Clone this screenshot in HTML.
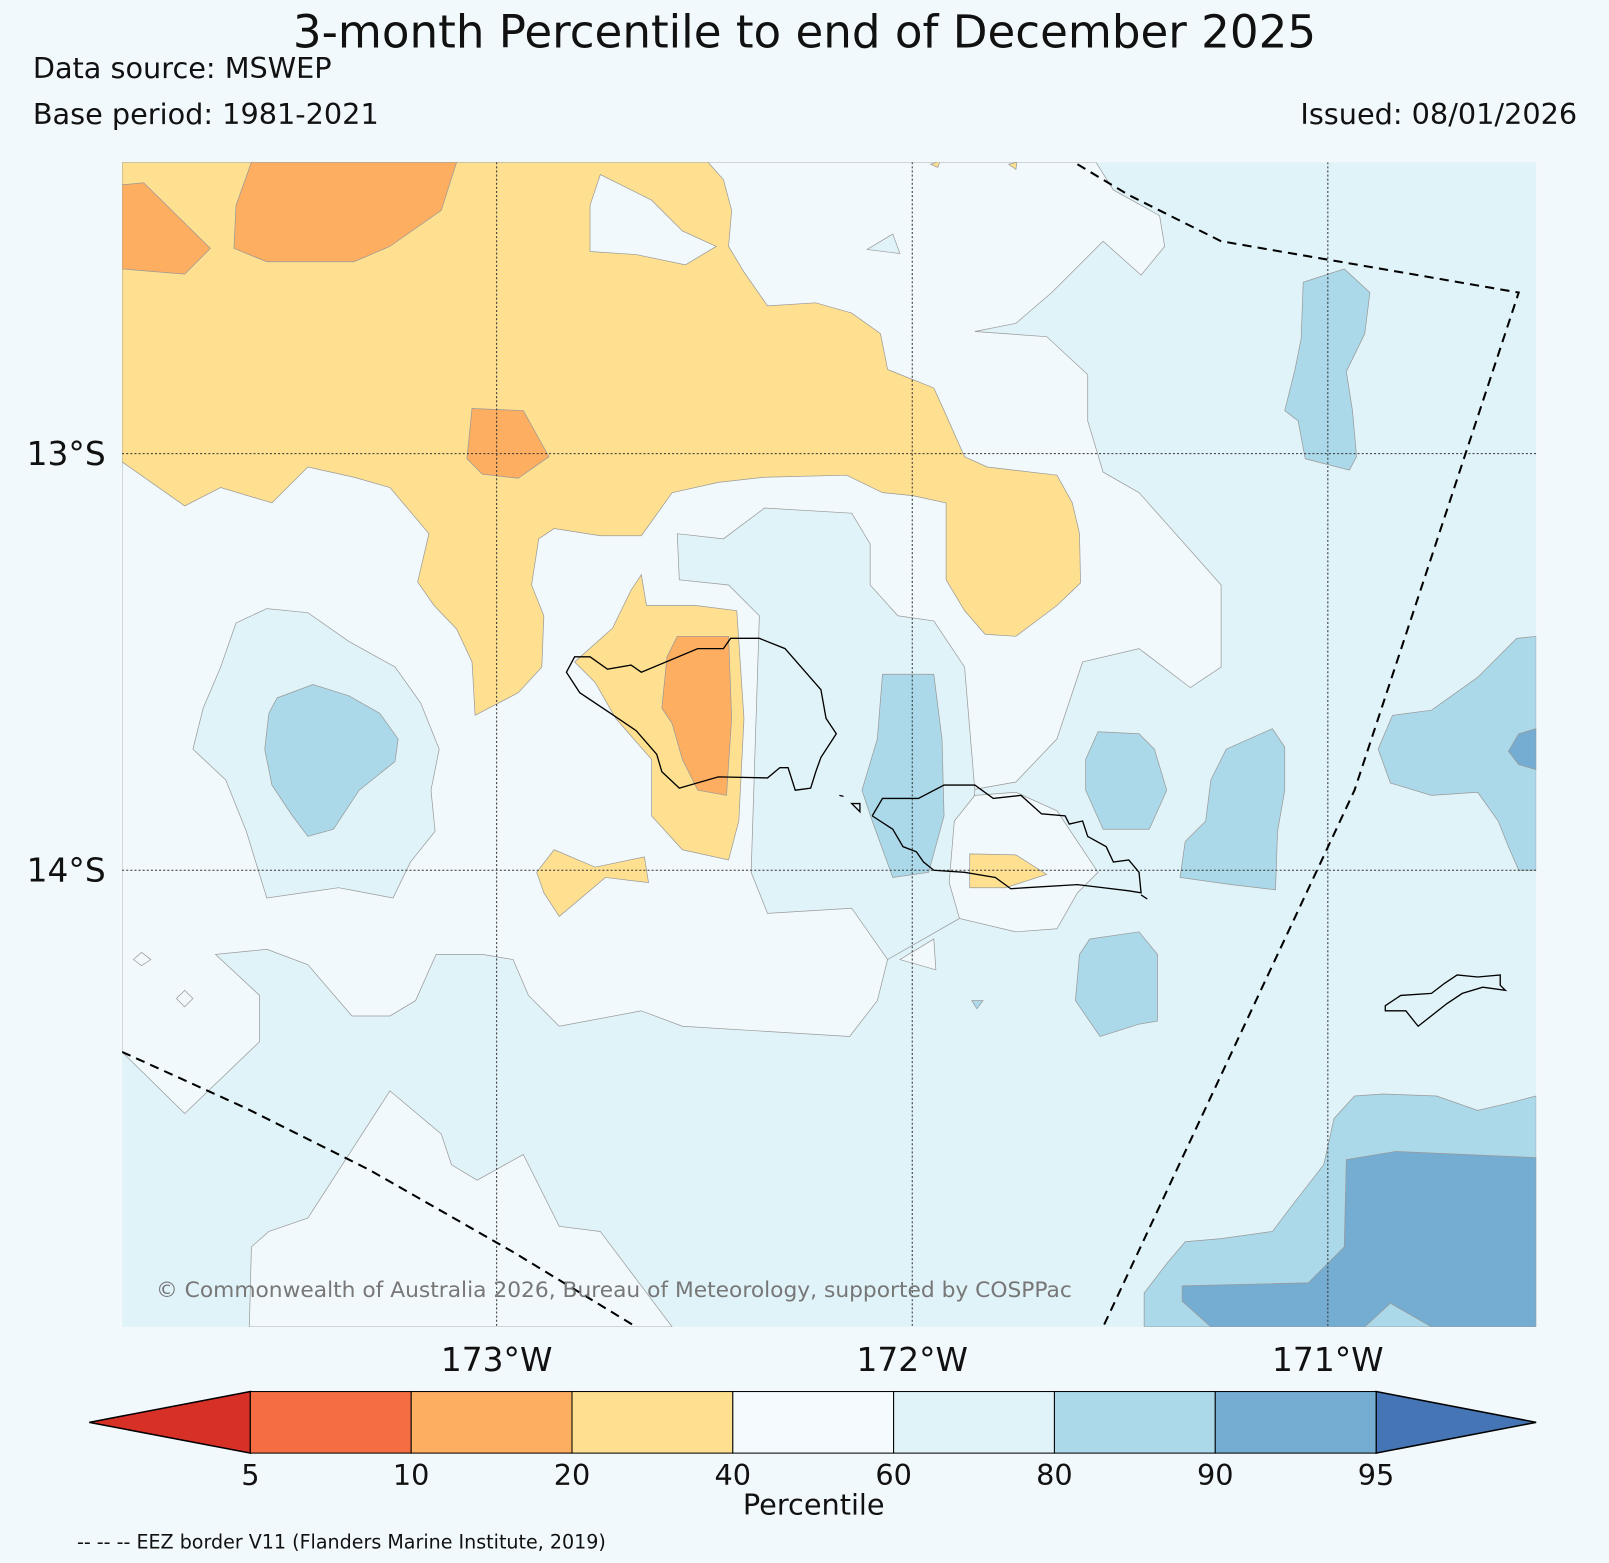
<!DOCTYPE html>
<html><head><meta charset="utf-8"><style>
html,body{margin:0;padding:0;background:#f2f9fc;}
svg{display:block;font-family:"DejaVu Sans","Liberation Sans",sans-serif;}
.c{stroke:#999;stroke-width:0.7;}
</style></head><body>
<svg id="fig" width="1609" height="1563" viewBox="0 0 1568 1523">
<rect width="1568" height="1523" fill="#f2f9fc"/>
<text x="784" y="46" font-size="44" text-anchor="middle" fill="#111">3-month Percentile to end of December 2025</text>
<text x="32" y="76" font-size="28" fill="#111">Data source: MSWEP</text>
<text x="32" y="121" font-size="28" fill="#111">Base period: 1981-2021</text>
<text x="1537" y="121" font-size="28" text-anchor="end" fill="#111">Issued: 08/01/2026</text>
<defs><clipPath id="mapclip"><rect x="119" y="158" width="1378" height="1135"/></clipPath></defs>
<g clip-path="url(#mapclip)">
<rect x="119" y="158" width="1378" height="1135" fill="#e0f3f8"/>
<polygon class="c" fill="#f2f9fc" points="119,158 1068,158 1085,185 1130,210 1135,240 1112,268 1075,235 1025,285 990,315 950,323 1020,328 1060,365 1060,410 1075,460 1110,480 1190,570 1190,650 1160,670 1110,632 1055,645 1030,720 990,762 945,770 865,935 855,975 828,1010 665,1000 625,985 545,1000 515,970 500,935 470,930 425,930 405,975 380,990 343,990 300,940 260,925 210,930 253,970 253,1015 180,1085 119,1025"/>
<polygon class="c" fill="#f2f9fc" points="243,1293 245,1215 262,1200 300,1187 380,1063 430,1105 440,1135 465,1150 510,1125 545,1195 585,1200 655,1293"/>
<polygon class="c" fill="#f2f9fc" points="877,935 910,915 912,945"/>
<polygon class="c" fill="#f2f9fc" points="130,935 138,928 147,935 138,941"/>
<polygon class="c" fill="#f2f9fc" points="172,973 180,965 188,973 180,981"/>
<polygon class="c" fill="#e0f3f8" points="660,520 705,525 745,495 830,500 848,530 848,570 875,600 910,605 940,650 950,770 935,895 865,935 830,885 748,890 732,850 740,600 710,570 662,565"/>
<polygon class="c" fill="#f2f9fc" points="930,800 950,775 990,772 1030,790 1070,850 1050,870 1030,905 990,908 935,895 925,860"/>
<polygon class="c" fill="#e0f3f8" points="230,607 260,593 300,597 340,625 385,650 410,685 428,730 420,770 424,810 400,840 383,875 330,865 260,875 240,810 220,760 188,730 198,690 215,650"/>
<polygon class="c" fill="#e0f3f8" points="845,243 870,228 877,247"/>
<polygon class="c" fill="#fee090" points="119,158 690,158 705,175 713,205 710,240 725,265 748,298 795,295 830,305 858,325 865,360 910,378 920,400 940,445 962,455 1030,463 1045,490 1052,520 1053,568 1030,590 990,620 960,618 940,595 922,565 922,490 890,483 860,480 825,463 745,465 700,470 655,480 625,522 585,522 540,515 525,525 518,570 530,600 528,650 505,675 463,697 460,645 445,613 423,590 407,567 418,520 380,475 345,465 300,455 265,490 215,475 180,493 119,450"/>
<polygon class="c" fill="#f2f9fc" points="575,200 585,170 635,195 665,225 698,240 668,258 620,248 575,245"/>
<polygon class="c" fill="#fdae61" points="245,158 445,158 430,205 380,240 345,255 260,255 228,242 230,200"/>
<polygon class="c" fill="#fdae61" points="119,180 140,178 205,242 180,267 119,262"/>
<polygon class="c" fill="#fdae61" points="460,398 510,400 535,445 505,466 470,462 455,447"/>
<polygon class="c" fill="#fee090" points="560,645 597,612 615,575 625,560 630,590 678,590 718,595 725,700 720,800 710,838 665,828 635,795 635,740 600,700 580,665"/>
<polygon class="c" fill="#fdae61" points="660,620 710,620 713,700 708,775 680,770 665,740 655,705 645,690 650,640"/>
<polygon class="c" fill="#fee090" points="523,850 540,828 580,845 628,835 632,860 590,855 545,893 530,870"/>
<polygon class="c" fill="#fee090" points="945,832 990,833 1020,852 980,865 945,865"/>
<polygon class="c" fill="#abd9e9" points="270,680 305,667 340,678 370,695 388,720 385,742 350,770 325,808 300,815 285,795 265,765 258,730 262,695"/>
<polygon class="c" fill="#abd9e9" points="860,657 910,657 918,720 920,795 905,850 870,855 850,800 840,770 855,720"/>
<polygon class="c" fill="#abd9e9" points="1070,713 1110,715 1125,730 1137,770 1120,808 1075,808 1058,770 1058,740"/>
<polygon class="c" fill="#abd9e9" points="1195,730 1240,710 1252,728 1252,770 1245,810 1243,867 1200,862 1150,855 1155,820 1175,800 1180,760"/>
<polygon class="c" fill="#abd9e9" points="1270,275 1310,262 1335,285 1330,325 1312,362 1318,400 1322,445 1315,458 1272,447 1265,410 1252,400 1262,360 1268,330"/>
<polygon class="c" fill="#abd9e9" points="1497,620 1478,622 1440,660 1395,692 1357,697 1343,730 1355,763 1395,775 1440,772 1460,800 1470,825 1480,848 1497,848"/>
<polygon class="c" fill="#74add1" points="1480,715 1497,710 1497,750 1480,745 1470,732"/>
<polygon class="c" fill="#abd9e9" points="1062,915 1110,908 1128,930 1128,995 1110,998 1072,1010 1048,975 1052,930"/>
<polygon class="c" fill="#abd9e9" points="1497,1068 1470,1075 1440,1082 1400,1068 1348,1066 1320,1068 1300,1090 1290,1135 1255,1180 1240,1200 1190,1207 1155,1210 1138,1230 1115,1260 1115,1293 1497,1293"/>
<polygon class="c" fill="#74add1" points="1312,1130 1360,1122 1497,1128 1497,1293 1395,1293 1355,1270 1330,1293 1180,1293 1152,1268 1152,1253 1275,1250 1310,1215"/>
<polygon class="c" fill="#abd9e9" points="947,975 958,975 952,983"/>
<polygon fill="#fee090" class="c" points="907,160 916,157 914,163"/>
<polygon fill="#fee090" class="c" points="983,160 991,158 990,165"/>
<g stroke="#333" stroke-width="1" stroke-dasharray="2,2">
<line x1="484" y1="158" x2="484" y2="1293"/><line x1="889" y1="158" x2="889" y2="1293"/><line x1="1294" y1="158" x2="1294" y2="1293"/>
<line x1="119" y1="442" x2="1497" y2="442"/><line x1="119" y1="848" x2="1497" y2="848"/>
</g>
<g fill="none" stroke="#000" stroke-width="1.3">
<polygon points="552,655 560,640 575,640 592,652 615,648 625,655 680,632 705,632 712,622 740,622 765,632 800,672 805,700 815,715 800,738 795,752 790,768 775,770 768,748 760,748 748,758 700,757 662,768 645,752 640,735 620,712 595,695 565,675"/>
<polyline points="850,795 860,778 895,778 920,765 950,765 968,778 995,775 1015,793 1038,795 1042,803 1055,800 1060,815 1078,825 1085,840 1100,838 1110,850 1112,870 1100,868 1050,862 1000,865 985,866 970,855 940,850 910,848 900,840 893,830 880,825 870,808 850,795"/>
<line x1="1112" y1="872" x2="1118" y2="876"/><line x1="818" y1="775" x2="822" y2="776"/>
<polygon points="830,783 838,783 838,791"/>
<polygon points="1350,980 1365,970 1395,968 1408,958 1420,950 1440,952 1462,950 1462,960 1467,965 1445,962 1425,968 1410,978 1382,1000 1370,985 1350,985"/>
</g>
<g fill="none" stroke="#000" stroke-width="2" stroke-dasharray="9,6">
<polyline points="1050,160 1100,190 1190,235 1480,285 1320,770 1075,1293"/>
<polyline points="119,1025 240,1080 360,1140 500,1220 620,1293"/>
</g>
<text x="152" y="1264" font-size="21.2" fill="#777">© Commonwealth of Australia 2026, Bureau of Meteorology, supported by COSPPac</text>
</g>
<g font-size="32" fill="#111">
<text x="103" y="453" text-anchor="end">13°S</text>
<text x="103" y="859" text-anchor="end">14°S</text>
<text x="484" y="1336" text-anchor="middle">173°W</text>
<text x="889" y="1336" text-anchor="middle">172°W</text>
<text x="1294" y="1336" text-anchor="middle">171°W</text>
</g>
<g id="colorbar"></g>
<text x="793" y="1476" font-size="28" text-anchor="middle" fill="#111">Percentile</text>
<text x="75" y="1509" font-size="18.6" fill="#111">-- -- -- EEZ border V11 (Flanders Marine Institute, 2019)</text>
</svg>
<script>
const bounds = [5, 10, 20, 40, 60, 80, 90, 95];
const bandColors = ["#f46d43", "#fdae61", "#fee090", "#f4fafd", "#e0f3f8", "#abd9e9", "#74add1"];
const extendColors = ["#d73027", "#4575b4"];
const NS = "http://www.w3.org/2000/svg";
const cb = document.getElementById("colorbar");
const x0 = 244, x1 = 1341, yT = 1356, yB = 1416, tipL = 87, tipR = 1497;
const step = (x1 - x0) / (bounds.length - 1);
function xAt(i) { return x0 + i * step; }
function mk(tag, attrs) { const e = document.createElementNS(NS, tag); for (const k in attrs) e.setAttribute(k, attrs[k]); cb.appendChild(e); return e; }
let t = mk("polygon", {points: `${x0},${yT} ${tipL},${(yT+yB)/2} ${x0},${yB}`, fill: extendColors[0], stroke: "#000", "stroke-width": 1.5});


t = mk("polygon", {points: `${x1},${yT} ${tipR},${(yT+yB)/2} ${x1},${yB}`, fill: extendColors[1], stroke: "#000", "stroke-width": 1.5});


bandColors.forEach((c, i) => {
  const r = mk("rect", {x: xAt(i), y: yT, width: step, height: yB - yT, fill: c, stroke: "#000", "stroke-width": 1});
  
  
});
bounds.forEach((b, i) => {
  const tx = mk("text", {x: xAt(i), y: 1447, "font-size": 28, "text-anchor": "middle", fill: "#111"});
  tx.textContent = b;
  
  
});
</script>
</body></html>
